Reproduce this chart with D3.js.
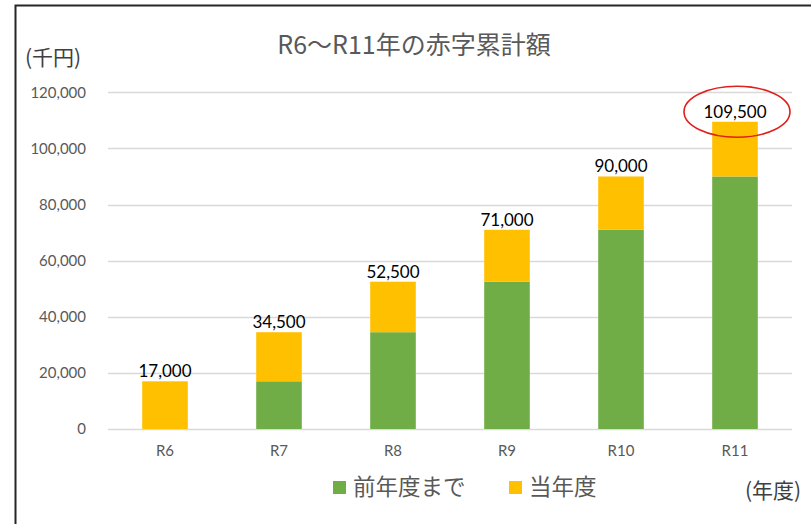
<!DOCTYPE html>
<html><head><meta charset="utf-8">
<script src="https://cdn.jsdelivr.net/npm/d3@7"></script>
<style>
html,body{margin:0;padding:0;background:#fff;}
svg{display:block;}
</style></head>
<body>
<svg id="chart" width="811" height="524"></svg>
<script>
const categories = ["R6","R7","R8","R9","R10","R11"];
const previousYears = [0,17000,34500,52500,71000,90000];
const currentYear = [17000,17500,18000,18500,19000,19500];
const yTicks = [0,20000,40000,60000,80000,100000,120000];
const seriesNames = ["前年度まで","当年度"];
const colors = ["#70AD47","#FFC000"];

const svg = d3.select("#chart");
const latin = "Lato, 'Noto Sans', sans-serif";
const cjk = "'Noto Sans CJK JP', 'Noto Sans', sans-serif";

// frame
svg.append("path").attr("d","M15.5,524 L15.5,5.5 L811,5.5")
  .attr("fill","none").attr("stroke","#262626").attr("stroke-width",2);

const x = d3.scaleBand().domain(categories).range([108,792]).paddingInner(0.6).paddingOuter(0.3);
const y = d3.scaleLinear().domain([0,120000]).range([429,92.3]);

// gridlines
svg.append("g").selectAll("line").data(yTicks).join("line")
  .attr("x1",108).attr("x2",792)
  .attr("y1",d=>Math.round(y(d))+0.5).attr("y2",d=>Math.round(y(d))+0.5)
  .attr("stroke","#D9D9D9").attr("stroke-width",1.3);

// y axis
const yAxis = d3.axisLeft(y).tickValues(yTicks).tickSize(0).tickPadding(0)
  .tickFormat(d3.format(","));
const gy = svg.append("g").attr("transform","translate(86,0)").call(yAxis);
gy.select(".domain").remove();
gy.selectAll("text").attr("font-family",latin).attr("font-size",15).attr("fill","#595959");

// stacked bars
const stackData = categories.map((c,i)=>({cat:c, prev:previousYears[i], cur:currentYear[i]}));
const stack = d3.stack().keys(["prev","cur"])(stackData);
svg.append("g").selectAll("g").data(stack).join("g")
  .attr("fill",(d,i)=>colors[i])
  .selectAll("rect").data(d=>d).join("rect")
  .attr("x",d=>x(d.data.cat))
  .attr("width",x.bandwidth())
  .attr("y",d=>y(d[1]))
  .attr("height",d=>y(d[0])-y(d[1]));

// x axis
const xAxis = d3.axisBottom(x).tickSize(0).tickPadding(0);
const gx = svg.append("g").attr("transform","translate(0,429)").call(xAxis);
gx.select(".domain").remove();
gx.selectAll("text").attr("font-family",latin).attr("font-size",15).attr("fill","#595959")
  .attr("dy","1.8em");

// totals labels
const totals = categories.map((c,i)=>previousYears[i]+currentYear[i]);
svg.append("g").selectAll("text").data(totals).join("text")
  .attr("x",(d,i)=>x(categories[i])+x.bandwidth()/2)
  .attr("y",d=>y(d)-4)
  .attr("text-anchor","middle")
  .attr("font-family",latin).attr("font-size",17).attr("fill","#000")
  .text(d=>d3.format(",")(d));

// red ellipse highlight around last total
const lastCat = categories[categories.length-1];
svg.append("ellipse")
  .attr("cx",x(lastCat)+x.bandwidth()/2+2)
  .attr("cy",y(totals[totals.length-1])-10)
  .attr("rx",53).attr("ry",25.5)
  .attr("fill","none").attr("stroke","#E0201B").attr("stroke-width",1.6);

// title
svg.append("text").attr("x",414).attr("y",54).attr("text-anchor","middle")
  .attr("font-family",cjk).attr("font-size",25).attr("fill","#595959")
  .text("R6～R11年の赤字累計額");

// unit labels
svg.append("text").attr("x",25).attr("y",65)
  .attr("font-family",cjk).attr("font-size",21).attr("fill","#404040")
  .text("(千円)");
svg.append("text").attr("x",745).attr("y",498)
  .attr("font-family",cjk).attr("font-size",21).attr("fill","#404040")
  .text("(年度)");

// legend
const legendX = [333,509];
const lg = svg.append("g");
seriesNames.forEach((n,i)=>{
  lg.append("rect").attr("x",legendX[i]).attr("y",481).attr("width",13).attr("height",13).attr("fill",colors[i]);
  lg.append("text").attr("x",legendX[i]+20).attr("y",495)
    .attr("font-family",cjk).attr("font-size",22.5).attr("fill","#595959").text(n);
});
</script>
</body></html>
